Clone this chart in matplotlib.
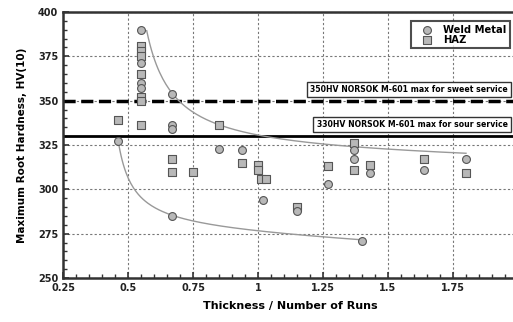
import numpy as np
import matplotlib
matplotlib.use("Agg")
import matplotlib.pyplot as plt
from matplotlib.ticker import MultipleLocator

# Weld metal (circles)
weld_x = [0.46, 0.55, 0.55, 0.55, 0.55, 0.67, 0.67, 0.67, 0.67, 0.85, 0.94, 1.02,
          1.15, 1.27, 1.37, 1.37, 1.40, 1.43, 1.64, 1.80]
weld_y = [327, 390, 371, 360, 357, 354, 336, 334, 285, 323, 322, 294,
          288, 303, 322, 317, 271, 309, 311, 317]

# HAZ (squares)
haz_x = [0.46, 0.55, 0.55, 0.55, 0.55, 0.55, 0.55, 0.55, 0.67, 0.67, 0.75, 0.85,
         0.94, 1.00, 1.00, 1.01, 1.03, 1.15, 1.27, 1.37, 1.37, 1.43, 1.64, 1.80]
haz_y = [339, 381, 378, 375, 365, 352, 350, 336, 317, 310, 310, 336,
         315, 314, 311, 306, 306, 290, 313, 326, 311, 314, 317, 309]

# trend curves, points
upper_x = [0.572, 0.585, 0.623, 0.672, 0.713, 0.777, 0.854, 0.956, 1.046, 1.37, 1.80]
upper_y = [388, 382, 369, 354.5, 344.7, 338.1, 335.4, 332.5, 331.3, 326.9, 318.4]
lower_x = [0.464, 0.501, 0.533, 0.674, 0.93, 1.11, 1.40]
lower_y = [326, 305.2, 299.6, 284.6, 278, 275.2, 271.4]

sweet_limit = 350
sour_limit = 330


def fit_curve(xs, ys):
    # y = c + d*x + a/(x - x0), x0 picked by least squares
    xs, ys = np.array(xs), np.array(ys)
    best = None
    for x0 in np.arange(0.20, xs.min() - 0.01, 0.005):
        A = np.column_stack([np.ones_like(xs), xs, 1 / (xs - x0)])
        coef = np.linalg.lstsq(A, ys, rcond=None)[0]
        err = np.sum((A @ coef - ys) ** 2)
        if best is None or err < best[0]:
            best = (err, x0, coef)
    _, x0, coef = best
    xx = np.linspace(xs.min(), xs.max(), 200)
    return xx, coef[0] + coef[1] * xx + coef[2] / (xx - x0)


plt.rcParams['font.family'] = 'DejaVu Sans'
fig = plt.figure(figsize=(5.13, 3.22), dpi=100)
ax = fig.add_axes([63 / 513, 44 / 322, 455 / 513, 266 / 322])

ax.set_xlim(0.25, 2.0)
ax.set_ylim(250, 400)
ax.xaxis.set_minor_locator(MultipleLocator(0.05))
ax.yaxis.set_major_locator(MultipleLocator(25))
ax.yaxis.set_minor_locator(MultipleLocator(5))
ax.set_xticks([0.25, 0.5, 0.75, 1.0, 1.25, 1.5, 1.75])
ax.set_xticklabels(["0.25", "0.5", "0.75", "1", "1.25", "1.5", "1.75"])
ax.tick_params(which='both', direction='in', color='#333333', labelsize=7)
ax.tick_params(which='major', length=4, width=1.2)
ax.tick_params(which='minor', length=3, width=1.0)
for lab in ax.get_xticklabels() + ax.get_yticklabels():
    lab.set_fontweight('bold')
    lab.set_color('#222222')
for s in ax.spines.values():
    s.set_linewidth(1.8)
    s.set_color('#333333')
ax.grid(True, which='major', linestyle=(0, (2, 2)), color='#777777', linewidth=0.8)
ax.set_axisbelow(True)

ax.axhline(sweet_limit, color='black', lw=2.5, ls=(0, (3.5, 1.6)), zorder=2)
ax.axhline(sour_limit, color='black', lw=2.0, zorder=2)

xx, yy = fit_curve(upper_x, upper_y)
ax.plot(xx, yy, color='#999999', lw=1.0, zorder=2)
xx, yy = fit_curve(lower_x, lower_y)
ax.plot(xx, yy, color='#999999', lw=1.0, zorder=2)

ax.scatter(haz_x, haz_y, marker='s', s=28, color='#b8b8b8', edgecolor='#555555',
           linewidth=0.8, zorder=3, label='HAZ')
ax.scatter(weld_x, weld_y, marker='o', s=32, color='#b8b8b8', edgecolor='#555555',
           linewidth=0.8, zorder=4, label='Weld Metal')

box = dict(boxstyle='square,pad=0.4', fc='white', ec='#333333', lw=1.0)
ax.text(1.96, 356.5, "350HV NORSOK M-601 max for sweet service", fontsize=5.6,
        fontweight='bold', ha='right', va='center', bbox=box, zorder=5)
ax.text(1.96, 336.5, "330HV NORSOK M-601 max for sour service", fontsize=5.6,
        fontweight='bold', ha='right', va='center', bbox=box, zorder=5)

handles, labels = ax.get_legend_handles_labels()
leg = ax.legend(handles[::-1], labels[::-1], loc='upper right', bbox_to_anchor=(0.982, 0.965),
                prop={'weight': 'bold', 'size': 7.2}, frameon=True, fancybox=False,
                handletextpad=0.3, labelspacing=0.0, borderpad=0.35, handlelength=2.6,
                borderaxespad=0)
leg.get_frame().set_edgecolor('#222222')
leg.get_frame().set_linewidth(1.5)

ax.set_xlabel("Thickness / Number of Runs", fontsize=8, fontweight='bold', labelpad=6)
ax.set_ylabel("Maximum Root Hardness, HV(10)", fontsize=7.5, fontweight='bold', labelpad=8)

fig.savefig("out.png", dpi=100)
